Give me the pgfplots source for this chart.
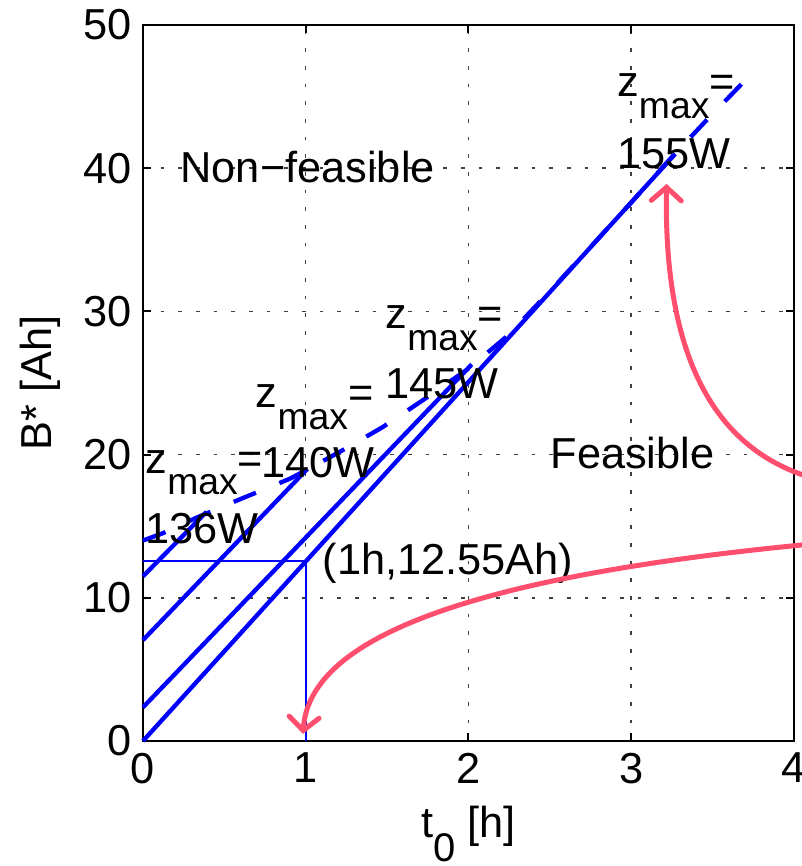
\documentclass[border=0pt]{standalone}
\usepackage{fontspec}
\setmainfont{Liberation Sans}
\usepackage{pgfplots}
\pgfplotsset{compat=1.18}
\usetikzlibrary{arrows.meta,calc}
\definecolor{mblue}{RGB}{0,0,255}
\definecolor{mred}{RGB}{255,78,110}
\newcommand{\lbl}{\fontsize{13}{15}\selectfont}
\newcommand{\zmax}{z\raisebox{-0.5em}{\fontsize{11.2}{13}\selectfont max}=}
\begin{document}
\begin{tikzpicture}
\begin{axis}[
  name=ax,
  scale only axis,
  width=195.3pt, height=214.8pt,
  xmin=0, xmax=4, ymin=0, ymax=50,
  xtick={0,1,2,3,4}, ytick={0,10,20,30,40,50},
  grid=major,
  major grid style={black!75, line width=0.45pt, dash pattern=on 1.1pt off 4.2pt},
  tick align=inside,
  major tick length=2.4pt,
  axis line style={line width=0.6pt},
  every tick/.style={black, line width=0.6pt},
  tick label style={font=\lbl},
  /pgf/number format/assume math mode=true,
  xlabel={t\raisebox{-0.55em}{\fontsize{12}{14}\selectfont 0} [h]},
  ylabel={B* [Ah]},
  label style={font=\lbl},
  clip=false,
]
% solid boundary lines
\addplot[mblue, line width=1.3pt] coordinates {(0,0) (3.27,41.0)};
\addplot[mblue, line width=1.3pt] coordinates {(0,2.35) (2.02,26.3)};
\addplot[mblue, line width=1.3pt] coordinates {(0,7.05) (1.01,19.0)};
\addplot[mblue, line width=1.3pt] coordinates {(0,11.5) (0.39,16.0)};
% dashed locus
\addplot[mblue, line width=1.3pt, dash pattern=on 7.2pt off 7.6pt] coordinates {
 (0,14.0) (0.12,14.5) (0.33,15.6) (0.6,16.9) (0.9,18.3) (1.0,18.9) (1.21,20.2)
 (1.47,21.9) (1.72,23.8) (2.0,26.0) (2.24,28.3) (2.5,31.4) (2.75,34.5) (3.0,37.6)
 (3.225,40.47) (3.45,43.2) (3.68,45.9)};
% marked point
\addplot[mblue, line width=0.6pt] coordinates {(0,12.55) (1,12.55) (1,0)};
% labels
\node[anchor=base west, inner sep=0, font=\lbl] at (axis cs:0.012,18.7) {\zmax};
\node[anchor=base west, inner sep=0, font=\lbl] at (axis cs:0.012,13.8) {136W};
\node[anchor=base west, inner sep=0, font=\lbl] at (axis cs:0.69,23.3) {\zmax};
\node[anchor=base west, inner sep=0, font=\lbl] at (axis cs:0.725,18.4) {140W};
\node[anchor=base west, inner sep=0, font=\lbl] at (axis cs:1.487,28.8) {\zmax};
\node[anchor=base west, inner sep=0, font=\lbl] at (axis cs:1.487,23.95) {145W};
\node[anchor=base west, inner sep=0, font=\lbl] at (axis cs:2.91,45.0) {\zmax};
\node[anchor=base west, inner sep=0, font=\lbl] at (axis cs:2.91,40.0) {155W};
\node[anchor=base west, inner sep=0, font=\lbl] at (axis cs:0.227,38.97) {Non−feasible};
\node[anchor=base west, inner sep=0, font=\lbl] at (axis cs:2.50,19.06) {Feasible};
\node[anchor=base west, inner sep=0, font=\lbl] at (axis cs:1.10,11.6) {(1h,12.55Ah)};
% red annotation arrows
\draw[mred, line width=1.5pt, line cap=round,
  -{Straight Barb[length=4pt,width=9pt,line cap=round]}]
  (axis cs:4.049,18.6) .. controls (axis cs:3.45,21.0) and (axis cs:3.2,28.0) .. (axis cs:3.217,38.9);
\draw[mred, line width=1.5pt, line cap=round,
  -{Straight Barb[length=4pt,width=9pt,line cap=round]}]
  (axis cs:4.049,13.69) .. controls (axis cs:1.8,11.2) and (axis cs:1.02,6.5) .. (axis cs:0.983,0.5);
\end{axis}
\pgfresetboundingbox
\path[use as bounding box] ($(ax.south west)+(-42.9pt,-37.5pt)$) rectangle ($(ax.north east)+(2.4pt,7.5pt)$);
\end{tikzpicture}
\end{document}
